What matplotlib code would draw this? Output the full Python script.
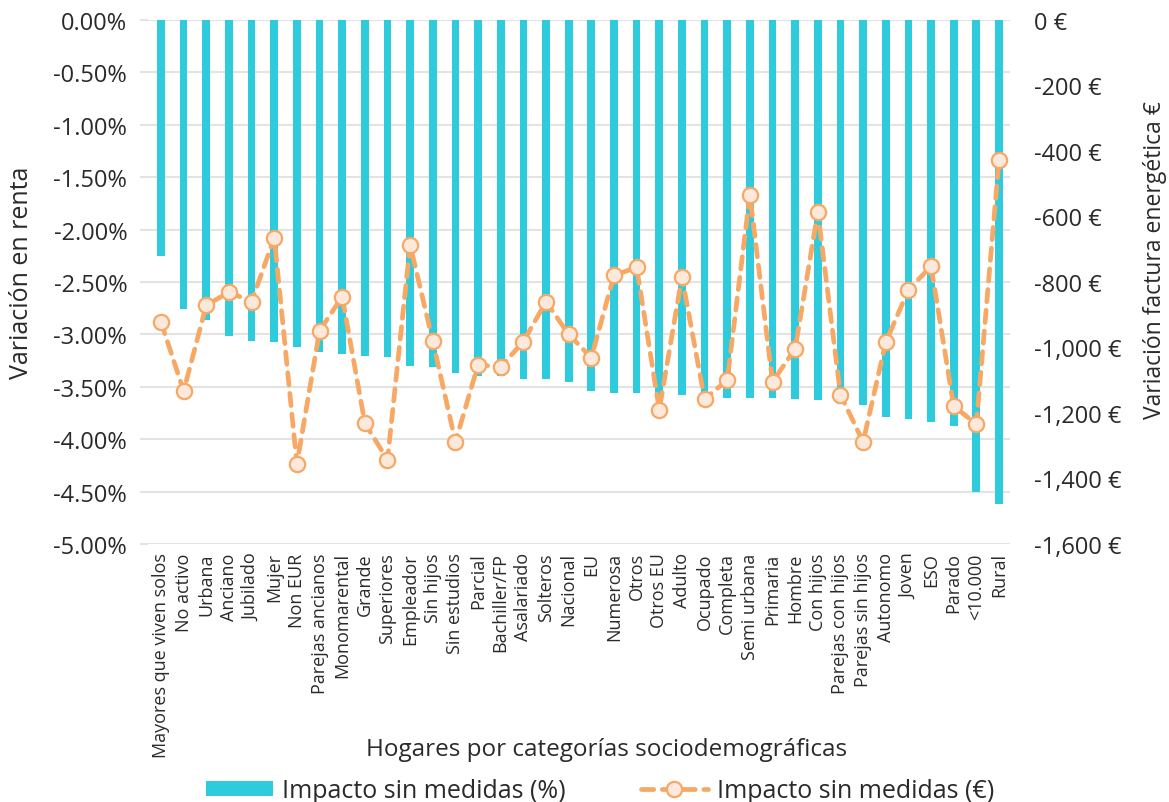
import matplotlib
matplotlib.use("Agg")
import matplotlib.pyplot as plt
import numpy as np
from matplotlib.ticker import FuncFormatter, FixedLocator

categories = ["Mayores que viven solos", "No activo", "Urbana", "Anciano", "Jubilado",
              "Mujer", "Non EUR", "Parejas ancianos", "Monomarental", "Grande",
              "Superiores", "Empleador", "Sin hijos", "Sin estudios", "Parcial",
              "Bachiller/FP", "Asalariado", "Solteros", "Nacional", "EU",
              "Numerosa", "Otros", "Otros EU", "Adulto", "Ocupado",
              "Completa", "Semi urbana", "Primaria", "Hombre", "Con hijos",
              "Parejas con hijos", "Parejas sin hijos", "Autonomo", "Joven", "ESO",
              "Parado", "<10.000", "Rural"]

impacto_pct = [-2.25, -2.76, -2.86, -3.02, -3.06, -3.07, -3.12, -3.17, -3.19, -3.21,
               -3.22, -3.30, -3.31, -3.37, -3.40, -3.40, -3.43, -3.43, -3.455, -3.54,
               -3.56, -3.56, -3.575, -3.58, -3.59, -3.605, -3.61, -3.61, -3.615, -3.63,
               -3.667, -3.674, -3.79, -3.81, -3.84, -3.875, -4.50, -4.62]

impacto_eur = [-922, -1133, -871, -831, -860, -665, -1356, -949, -845, -1231,
               -1343, -687, -980, -1288, -1053, -1059, -982, -860, -960, -1031,
               -780, -755, -1190, -785, -1157, -1100, -534, -1105, -1004, -586,
               -1144, -1288, -984, -824, -752, -1179, -1234, -427]

left_ticks = [0.0, -0.5, -1.0, -1.5, -2.0, -2.5, -3.0, -3.5, -4.0, -4.5, -5.0]
right_ticks = [0, -200, -400, -600, -800, -1000, -1200, -1400, -1600]

FONT = ["Open Sans", "DejaVu Sans"]
plt.rcParams["font.family"] = FONT
TXT = "#2a2a2a"
BAR_C = "#2ECBDC"
LINE_C = "#F7A864"
MFACE = "#FDE8DC"

W, H = 1169, 803
fig = plt.figure(figsize=(W / 100, H / 100), dpi=100)
AX_L, AX_R, AX_T, AX_B = 148, 1010, 21, 545
ax = fig.add_axes([AX_L / W, 1 - AX_B / H, (AX_R - AX_L) / W, (AX_B - AX_T) / H])
aw, ah = AX_R - AX_L, AX_B - AX_T

x = np.arange(len(categories))
bars = ax.bar(x, impacto_pct, width=0.34, color=BAR_C, zorder=2,
              label="Impacto sin medidas (%)")
ax.set_xlim(-0.574, 37.486)
ax.set_ylim(-5.0, 0.0)
ax.yaxis.set_major_locator(FixedLocator(left_ticks))
ax.yaxis.set_major_formatter(FuncFormatter(lambda v, p: "0.00%" if abs(v) < 1e-9 else f"{v:.2f}%"))
ax.grid(axis="y", color="#E2E4E4", linewidth=1.5, zorder=0)
ax.set_axisbelow(True)
for s in ax.spines.values():
    s.set_visible(False)
ax.set_xticks(x)
ax.set_xticklabels(categories, rotation=90, fontsize=13, color=TXT)
ax.tick_params(axis="x", length=0, pad=6)
ax.tick_params(axis="y", length=6, color="#E2E4E4", width=1.5, pad=9,
               labelsize=17, labelcolor=TXT)
ax.set_ylabel("Variación en renta", fontsize=18, color=TXT)
ax.yaxis.set_label_coords((22 - AX_L) / aw, (AX_B - 273) / ah)
ax.yaxis.label.set_verticalalignment("center")
ax.set_xlabel("Hogares por categorías sociodemográficas", fontsize=17.5, color=TXT)
ax.xaxis.set_label_coords((607 - AX_L) / aw, (AX_B - 750) / ah)
ax.xaxis.label.set_verticalalignment("center")

ax2 = ax.twinx()
line, = ax2.plot(x, impacto_eur, color=LINE_C, linewidth=3.4, linestyle=(0, (2.6, 1.8)),
                 dash_capstyle="round", marker="o", markersize=11,
                 markerfacecolor=MFACE, markeredgecolor=LINE_C, markeredgewidth=1.6,
                 zorder=3, label="Impacto sin medidas (€)")
ax2.set_ylim(-1600, 0)
ax2.yaxis.set_major_locator(FixedLocator(right_ticks))
ax2.yaxis.set_major_formatter(FuncFormatter(lambda v, p: f"{v:,.0f} €"))
for s in ax2.spines.values():
    s.set_visible(False)
ax2.tick_params(axis="y", length=0, pad=17, labelsize=17, labelcolor=TXT)
ax2.set_ylabel("Variación factura energética €", fontsize=16.5, color=TXT)
ax2.yaxis.set_label_coords((1155 - AX_L) / aw, (AX_B - 260) / ah)
ax2.yaxis.label.set_verticalalignment("center")

leg = fig.legend([bars, line], ["Impacto sin medidas (%)", "Impacto sin medidas (€)"],
                 loc="center", bbox_to_anchor=(600 / W, 1 - 792 / H), ncol=2,
                 frameon=False, fontsize=18, handlelength=2.7, handleheight=0.55,
                 columnspacing=3.0, handletextpad=0.35, labelcolor=TXT,
                 borderaxespad=0, borderpad=0)

fig.savefig("out.png", dpi=100)
